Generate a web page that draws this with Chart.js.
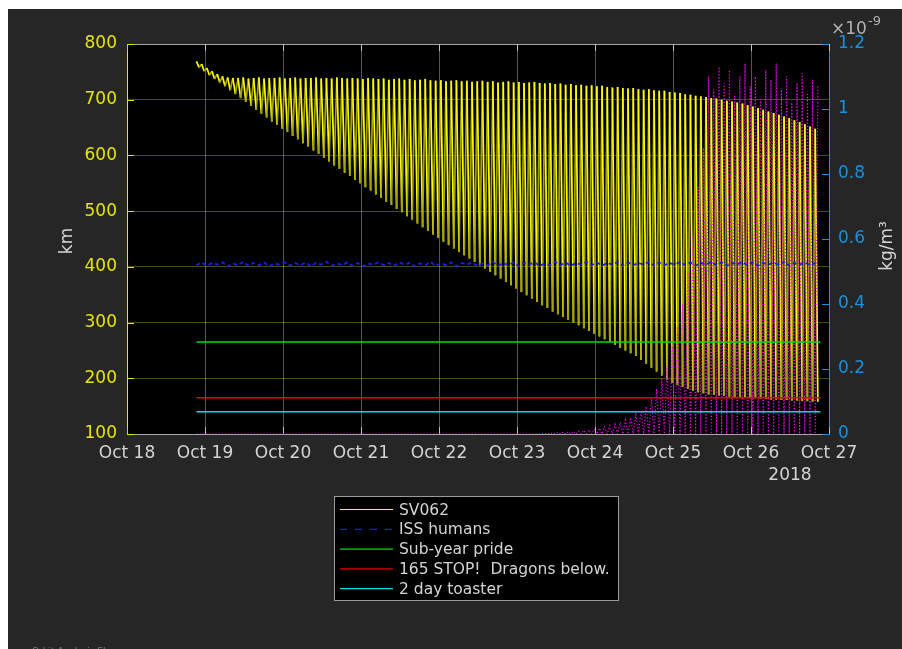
<!DOCTYPE html>
<html>
<head>
<meta charset="utf-8">
<title>SV062 orbit decay</title>
<script src="https://cdn.jsdelivr.net/npm/chart.js@4.4.1/dist/chart.umd.min.js"></script>
<style>
  html, body { margin: 0; padding: 0; background: #ffffff; overflow: hidden; }
  #plot { display: block; }
</style>
</head>
<body>
<canvas id="plot" width="902" height="649"></canvas>
<script>
// ---- data -------------------------------------------------------------
// Time axis: day of October 2018. One orbit sample pair (apogee, perigee)
// is logged every 1/15 day starting at startDay.
const startDay = 18.89;
const orbitDays = 1 / 15;

// SV062 altitude at each apogee sample (km)
const svApogee = [
  769, 764, 757, 751, 746, 742, 740, 739, 739, 740, 738, 739, 740, 738, 739,
  739, 740, 738, 739, 740, 738, 739, 739, 740, 738, 739, 738, 740, 739, 738,
  739, 738, 737, 739, 738, 737, 738, 736, 737, 738, 736, 737, 735, 736, 737,
  735, 734, 735, 733, 734, 735, 733, 734, 732, 733, 734, 732, 733, 731, 732,
  733, 731, 732, 730, 731, 732, 730, 729, 730, 728, 729, 727, 728, 726, 727,
  725, 726, 724, 725, 723, 722, 723, 721, 720, 721, 719, 718, 719, 717, 716,
  716, 714, 713, 712, 710, 709, 707, 706, 705, 703, 702, 700, 698, 697, 695,
  693, 690, 688, 685, 682, 679, 676, 673, 670, 667, 663, 660, 656, 652, 648
];

// SV062 altitude at each perigee sample (km), half an orbit later
const svPerigee = [
  758, 751, 744, 737, 731, 724, 717, 710, 703, 696, 689, 682, 675, 668, 661,
  655, 648, 642, 635, 629, 622, 616, 609, 603, 596, 589, 582, 576, 569, 563,
  556, 550, 543, 537, 530, 524, 517, 511, 504, 498, 491, 485, 478, 471, 465,
  458, 452, 445, 439, 433, 427, 421, 415, 409, 403, 397, 391, 385, 379, 373,
  367, 361, 355, 349, 343, 337, 331, 326, 320, 315, 310, 305, 300, 295, 290,
  285, 280, 275, 270, 265, 260, 255, 250, 245, 240, 233, 226, 219, 212, 205,
  198, 192, 188, 185, 181, 178, 175, 173, 171, 170, 169, 168, 167, 166, 165,
  165, 164, 164, 163, 163, 162, 162, 161, 161, 160, 160, 159, 159, 158, 158
];

// Atmospheric density met at each perigee (units of 1e-9 kg/m^3);
// at apogee it is nil on this scale.
const perigeeDensity = [
  0, 0, 0, 0, 0, 0, 0, 0, 0, 0, 0, 0, 0, 0, 0,
  0, 0, 0, 0, 0, 0, 0, 0, 0, 0, 0, 0, 0, 0, 0,
  0, 0, 0, 0, 0, 0, 0, 0, 0, 0, 0, 0, 0, 0, 0,
  0, 0, 0, 0, 0, 0, 0, 0, 0, 0, 0, 0, 0, 0, 0,
  0, 0, 0, 0, 0, 0, 0.002, 0.003, 0.004, 0.005, 0.006, 0.007, 0.008, 0.009, 0.011,
  0.013, 0.015, 0.018, 0.022, 0.026, 0.03, 0.036, 0.043, 0.05, 0.06, 0.072, 0.085, 0.11, 0.14, 0.17,
  0.21, 0.27, 0.33, 0.4, 0.5, 0.62, 0.76, 0.88, 1.1, 1.06, 1.13, 1.08, 1.12, 1.04, 1.1,
  1.14, 1.07, 1.1, 1.03, 1.12, 1.09, 1.14, 1.06, 1.1, 1.02, 1.08, 1.11, 1.05, 1.09, 1.07
];

// ISS altitude, one sample per orbit step (km)
const issAlt = [
  403, 408, 402, 407, 404, 408, 401, 406, 403, 409, 402, 407, 403, 408, 401, 406, 404, 408, 402, 407,
  403, 408, 401, 407, 404, 409, 402, 406, 403, 408, 402, 407, 401, 406, 404, 408, 403, 407, 402, 408,
  404, 407, 401, 406, 403, 409, 402, 407, 403, 408, 401, 407, 404, 408, 402, 406, 403, 409, 402, 407,
  403, 408, 401, 407, 404, 408, 402, 406, 403, 409, 403, 408, 402, 407, 404, 409, 403, 408, 402, 407,
  404, 409, 402, 408, 403, 407, 404, 409, 402, 408, 403, 407, 404, 409, 403, 408, 402, 407, 404, 409,
  403, 408, 402, 407, 404, 409, 403, 408, 402, 407, 404, 408, 403, 409, 402, 407, 404, 408, 403, 407
];

// Reference altitudes (km) and the span they are drawn over (day of October)
const subYearPride = 265;
const dragonsBelow = 165;
const twoDayToaster = 140;
const refSpan = [18.89, 26.89];

// Axis ticks
const dayTicks = [18, 19, 20, 21, 22, 23, 24, 25, 26, 27];
const monthName = 'Oct';
const altRange = [100, 800];
const densRange = [0, 1.2];

// ---- build series ----------------------------------------------------
const svSeries = [];
const densSeries = [];
const issSeries = [];
for (let i = 0; i < svApogee.length; i++) {
  const tA = startDay + i * orbitDays;
  const tP = tA + orbitDays / 2;
  svSeries.push({ x: tA, y: svApogee[i] }, { x: tP, y: svPerigee[i] });
  densSeries.push({ x: tA, y: 0 }, { x: tP, y: perigeeDensity[i] });
  issSeries.push({ x: tA, y: issAlt[i] });
}
const levelLine = v => refSpan.map(t => ({ x: t, y: v }));

// ---- styling helpers --------------------------------------------------
const FONT = 'DejaVu Sans';
const TXT = '#d4d4d4';
const YEL = '#e6e600';
const BLU = '#1b8fdc';

const figureBackground = {
  id: 'figureBackground',
  beforeDraw(chart) {
    const { ctx, chartArea: a } = chart;
    ctx.save();
    ctx.fillStyle = '#ffffff';
    ctx.fillRect(0, 0, chart.width, chart.height);
    ctx.fillStyle = '#262626';
    ctx.fillRect(8, 9, chart.width - 8, chart.height - 9);
    ctx.fillStyle = '#000000';
    ctx.fillRect(a.left, a.top, a.right - a.left, a.bottom - a.top);
    ctx.restore();
  }
};

// Inward tick marks and the top frame line
const axisFrame = {
  id: 'axisFrame',
  beforeDatasetsDraw(chart) {
    const { ctx, chartArea: a, scales } = chart;
    ctx.save();
    ctx.lineWidth = 1;
    ctx.strokeStyle = '#a6a6a6';
    ctx.beginPath();
    ctx.moveTo(a.left, a.top + 0.5);
    ctx.lineTo(a.right, a.top + 0.5);
    ctx.stroke();
    const tl = 7;
    ctx.strokeStyle = '#bdbdbd';
    ctx.beginPath();
    dayTicks.forEach(d => {
      const x = Math.round(scales.x.getPixelForValue(d)) + 0.5;
      ctx.moveTo(x, a.bottom); ctx.lineTo(x, a.bottom - tl);
      ctx.moveTo(x, a.top); ctx.lineTo(x, a.top + tl);
    });
    ctx.stroke();
    ctx.strokeStyle = YEL;
    ctx.beginPath();
    scales.y.ticks.forEach(t => {
      const y = Math.round(scales.y.getPixelForValue(t.value)) + 0.5;
      ctx.moveTo(a.left, y); ctx.lineTo(a.left + tl, y);
    });
    ctx.stroke();
    ctx.strokeStyle = BLU;
    ctx.beginPath();
    scales.y1.ticks.forEach(t => {
      const y = Math.round(scales.y1.getPixelForValue(t.value)) + 0.5;
      ctx.moveTo(a.right, y); ctx.lineTo(a.right - tl, y);
    });
    ctx.stroke();
    ctx.restore();
  }
};

// Axis titles, exponent, year, legend box and footer
const annotations = {
  id: 'annotations',
  afterDraw(chart) {
    const { ctx } = chart;
    ctx.save();
    ctx.fillStyle = TXT;
    ctx.font = '17px "' + FONT + '"';
    ctx.textAlign = 'center';
    ctx.textBaseline = 'middle';

    ctx.save();
    ctx.translate(68, 241);
    ctx.rotate(-Math.PI / 2);
    ctx.fillText('km', 0, 0);
    ctx.restore();

    ctx.save();
    ctx.translate(888, 246);
    ctx.rotate(-Math.PI / 2);
    ctx.fillText('kg/m³', 0, 0);
    ctx.restore();

    // exponent of the right axis
    ctx.fillStyle = '#b0b0b0';
    ctx.textAlign = 'left';
    ctx.fillText('×10', 831, 30);
    ctx.font = '13px "' + FONT + '"';
    ctx.fillText('-9', 868, 22);

    // year under the date ticks
    ctx.fillStyle = TXT;
    ctx.font = '17px "' + FONT + '"';
    ctx.textAlign = 'center';
    ctx.fillText('2018', 790, 476);

    // legend
    const box = { x: 334.5, y: 496.5, w: 284, h: 104 };
    ctx.fillStyle = '#000000';
    ctx.fillRect(box.x, box.y, box.w, box.h);
    ctx.strokeStyle = '#9a9a9a';
    ctx.lineWidth = 1;
    ctx.strokeRect(box.x, box.y, box.w, box.h);
    const entries = chart.data.datasets.filter(d => d.showInKey);
    ctx.font = '15.5px "' + FONT + '"';
    ctx.textAlign = 'left';
    ctx.textBaseline = 'middle';
    entries.forEach((d, k) => {
      const y = 509.5 + k * 19.8;
      ctx.strokeStyle = d.keyColor || d.borderColor;
      ctx.lineWidth = 1.2;
      ctx.setLineDash(d.keyDash || []);
      ctx.beginPath();
      ctx.moveTo(340, y);
      ctx.lineTo(393, y);
      ctx.stroke();
      ctx.setLineDash([]);
      ctx.fillStyle = TXT;
      ctx.fillText(d.label, 399, y + 1);
    });

    // footer
    ctx.fillStyle = '#7a7a7a';
    ctx.font = '9px "' + FONT + '"';
    ctx.textBaseline = 'alphabetic';
    ctx.fillText('Orbit Analysis Shop', 32, 654);
    ctx.restore();
  }
};

const lineBase = { pointRadius: 0, pointHoverRadius: 0, tension: 0, fill: false };

new Chart(document.getElementById('plot'), {
  type: 'line',
  data: {
    datasets: [
      Object.assign({}, lineBase, {
        label: 'SV062', data: svSeries, yAxisID: 'y',
        borderColor: '#ffff00', keyColor: '#ffff00', borderWidth: 1.7, order: 6, showInKey: true,
        segment: { borderColor: c => (c.p1.y > c.p0.y ? '#ffff00' : '#a3a300') }
      }),
      Object.assign({}, lineBase, {
        label: 'ISS humans', data: issSeries, yAxisID: 'y',
        borderColor: '#1a1aff', borderDash: [4, 3], keyDash: [7, 8], borderWidth: 1.8, order: 4, showInKey: true
      }),
      Object.assign({}, lineBase, {
        label: 'Sub-year pride', data: levelLine(subYearPride), yAxisID: 'y',
        borderColor: '#00dd00', borderWidth: 1.5, order: 3, showInKey: true
      }),
      Object.assign({}, lineBase, {
        label: '165 STOP!  Dragons below.', data: levelLine(dragonsBelow), yAxisID: 'y',
        borderColor: '#ee0000', borderWidth: 1.5, order: 2, showInKey: true
      }),
      Object.assign({}, lineBase, {
        label: '2 day toaster', data: levelLine(twoDayToaster), yAxisID: 'y',
        borderColor: '#00dddd', borderWidth: 1.5, order: 1, showInKey: true
      }),
      Object.assign({}, lineBase, {
        label: 'Density', data: densSeries, yAxisID: 'y1',
        borderColor: '#ff00ff', borderDash: [1.2, 2], borderWidth: 1.1, order: 5, showInKey: false
      })
    ]
  },
  options: {
    responsive: false,
    animation: false,
    devicePixelRatio: 1,
    events: [],
    layout: { padding: { top: 44, left: 0, right: 0, bottom: 0 } },
    plugins: { legend: { display: false }, tooltip: { enabled: false } },
    scales: {
      x: {
        type: 'linear', position: 'bottom', min: dayTicks[0], max: dayTicks[dayTicks.length - 1],
        afterBuildTicks: s => { s.ticks = dayTicks.map(v => ({ value: v })); },
        ticks: {
          color: TXT, font: { family: FONT, size: 17 }, padding: 9,
          maxRotation: 0, autoSkip: false,
          callback: v => monthName + ' ' + v
        },
        grid: { color: '#555555', lineWidth: 1, drawTicks: false },
        border: { color: '#a6a6a6', width: 1 },
        afterFit: s => { s.height = 215; }
      },
      y: {
        position: 'left', min: altRange[0], max: altRange[1],
        ticks: { stepSize: 100, color: YEL, font: { family: FONT, size: 17 }, padding: 10 },
        grid: { color: 'rgba(230,230,0,0.32)', lineWidth: 1, drawTicks: false },
        border: { color: YEL, width: 1 },
        afterFit: s => { s.width = 127; }
      },
      y1: {
        position: 'right', min: densRange[0], max: densRange[1],
        ticks: {
          stepSize: 0.2, color: BLU, font: { family: FONT, size: 17 }, padding: 9,
          callback: v => String(parseFloat(v.toFixed(1)))
        },
        grid: { drawOnChartArea: false, drawTicks: false },
        border: { color: BLU, width: 1 },
        afterFit: s => { s.width = 73; }
      }
    }
  },
  plugins: [figureBackground, axisFrame, annotations]
});
</script>
</body>
</html>
